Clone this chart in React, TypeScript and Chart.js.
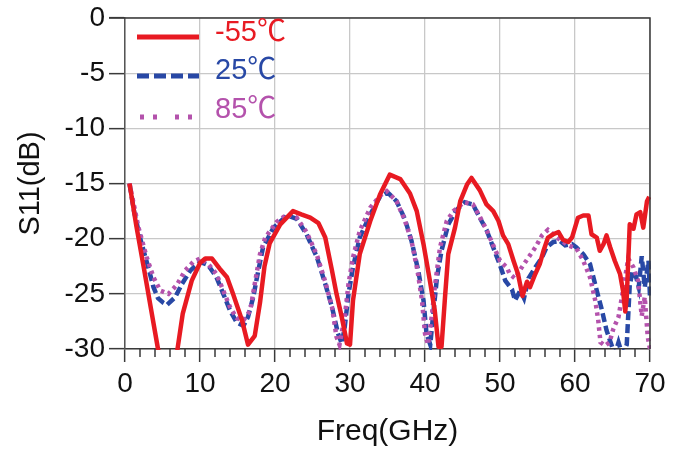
import React, { useEffect, useRef } from 'react';
import { Chart, registerables } from 'chart.js';

Chart.register(...registerables);

// ---- Data (Freq in GHz, S11 in dB) ----
const redFreq = [0.6, 1.5, 2.5, 3.5, 4.4, 5.5, 6.4, 7, 7.7, 8.9, 10, 10.7, 11.6, 12.6, 13.6, 14.4, 15.6, 16.4, 17.3, 18, 18.6, 19.3, 20.7, 22.4, 23.5, 24.7, 25.8, 26.7, 27.6, 28.2, 28.9, 29.6, 30, 30.4, 31.3, 32.7, 34, 35.3, 36.7, 38, 38.9, 39.8, 40.7, 41.3, 41.8, 42.2, 42.7, 43.1, 44, 44.7, 45.6, 46.2, 47.3, 48.2, 49.1, 49.8, 50.4, 51.1, 51.8, 52.4, 53, 53.6, 54, 54.7, 55.3, 55.8, 56.4, 57.1, 57.8, 58.4, 59.1, 59.6, 60, 60.4, 61.1, 61.8, 62.2, 62.9, 63.3, 63.8, 64.2, 64.7, 65.3, 66, 66.4, 66.7, 66.9, 67.1, 67.3, 67.8, 68.2, 68.7, 69.1, 69.6, 69.9];
const redS11 = [-15, -18.8, -22.6, -26.5, -30, -34, -34, -30, -26.8, -23.8, -22.2, -21.8, -21.8, -22.7, -23.5, -25, -27.4, -29.6, -28.8, -25.8, -22.5, -20.4, -18.7, -17.5, -17.8, -18.1, -18.6, -19.9, -22.9, -25, -27.1, -29.5, -29.6, -25.6, -21.4, -18.4, -16, -14.2, -14.6, -15.9, -17.5, -20.5, -24, -26.5, -29.8, -29.8, -25, -21.4, -19, -16.6, -15.1, -14.5, -15.6, -16.9, -17.5, -18.4, -19.7, -20.5, -22, -23.2, -25.2, -23.9, -24.4, -23.2, -22.3, -21.1, -19.9, -19.6, -19.4, -20.1, -20.3, -19.9, -19, -18.1, -17.9, -17.9, -19.6, -19.9, -21.1, -20.5, -19.7, -20.8, -22, -23.2, -24.7, -26.6, -25.3, -22, -18.7, -19.1, -17.8, -17.6, -19, -16.6, -16.2];

const blueFreq = [0.6, 1.2, 2, 3.1, 3.8, 4.4, 5.1, 5.6, 6.7, 7.6, 8.7, 10, 11.1, 12.2, 13.1, 14, 14.9, 15.8, 16.4, 17.1, 17.6, 18.4, 19.8, 21.6, 22.9, 24.2, 25.6, 26.7, 27.6, 28.4, 28.9, 29.3, 29.8, 30.4, 31.3, 32.7, 34, 35, 36.2, 37.3, 38.2, 39.1, 39.8, 40.2, 40.7, 41.1, 41.6, 42.2, 43.1, 44.2, 45.3, 46.4, 47.3, 48.2, 49.1, 50, 50.7, 51.6, 52, 52.7, 53.2, 53.8, 54.7, 55.6, 56.2, 57.1, 58, 58.7, 59.6, 60.2, 61.1, 62, 62.9, 63.6, 64.2, 64.8, 65.3, 65.8, 66.3, 66.9, 67.3, 67.7, 68.2, 68.5, 68.9, 69.3, 69.8, 70];
const blueS11 = [-15, -17.5, -19.9, -22.6, -24.4, -25.4, -25.8, -26, -25.3, -24.1, -22.9, -22.1, -22.4, -23.5, -25, -26.5, -27.6, -27.9, -27.1, -25.3, -23.5, -20.8, -19, -17.9, -18.2, -19.6, -21.7, -24.1, -26.2, -28.6, -29.5, -28, -25, -22.6, -19.9, -17.8, -16.2, -15.8, -16.6, -18.2, -20.2, -22.9, -25.6, -28.6, -29.6, -26.8, -23.5, -21.1, -18.7, -17.4, -16.7, -16.9, -18.1, -19.2, -20.8, -22.4, -23.8, -24.6, -25.6, -24.7, -25.4, -23.6, -22.6, -21.7, -20.8, -20.3, -20.2, -20.6, -20.5, -20.8, -21.4, -22.3, -24.7, -26.5, -28.3, -29.5, -30.5, -29.4, -30.5, -29.6, -24.2, -22.9, -23.6, -24.4, -21.6, -24.4, -22, -25.3];

const purpleFreq = [0.6, 1.2, 1.8, 2.9, 3.8, 4.7, 5.8, 6.9, 8, 9.1, 10, 11.1, 12.2, 13.1, 14, 14.9, 15.8, 16.7, 17.3, 18, 18.7, 20.2, 21.6, 22.9, 24.2, 25.6, 26.7, 27.6, 28.2, 28.6, 29.3, 29.8, 30.4, 31.3, 32.7, 34, 34.9, 36.2, 37.3, 38.2, 39, 39.6, 40, 40.4, 41, 41.3, 42, 42.9, 43.8, 45.2, 46.4, 47.3, 48.2, 49.1, 50, 50.9, 51.3, 52, 52.9, 53.8, 54.7, 55.6, 56.4, 57.1, 58, 59.1, 60.2, 61.1, 62, 62.7, 63.1, 63.4, 64, 64.6, 65.1, 65.8, 66.4, 67.1, 67.8, 68.4, 68.9, 69.3, 69.7, 70];
const purpleS11 = [-15, -17, -19, -21.7, -23.5, -24.7, -25, -24.2, -22.9, -22.1, -21.8, -22.3, -23.2, -24.7, -26.2, -27.2, -27.4, -26.5, -24.1, -21.4, -19.9, -18.5, -17.8, -18.1, -19.4, -21.5, -23.9, -26.2, -28.9, -29.6, -27.1, -24.1, -21.7, -19.3, -17.2, -16.1, -15.7, -16.6, -18.3, -20.2, -22.9, -25.6, -28.6, -29.6, -26.5, -24.4, -20.8, -18.4, -17.5, -16.7, -16.9, -18, -19.2, -20.6, -22, -22.6, -23.2, -23.6, -22.6, -21.7, -20.8, -19.7, -19.2, -19.6, -20.1, -20.6, -20.9, -22, -23.5, -25.6, -27.4, -29.4, -29.7, -29.4, -28.2, -27.1, -24.7, -21.8, -22.6, -23.8, -27, -25.3, -28.9, -30];

const seriesNames = ['-55℃', '25℃', '85℃'];
const xTickValues = [0, 10, 20, 30, 40, 50, 60, 70];
const yTickValues = [-30, -25, -20, -15, -10, -5, 0];

const RED = 'rgb(232,26,34)';
const BLUE = 'rgb(40,72,165)';
const PURPLE = 'rgb(180,82,172)';
const FONT = "Arial, 'Liberation Sans', 'Noto Sans CJK SC', sans-serif";

const toPoints = (xs: number[], ys: number[]) => xs.map((x, i) => ({ x, y: ys[i] }));

const decorPlugin = {
  id: 'decor',
  afterDraw(chart: any) {
    const { ctx, chartArea } = chart;
    const { left, right, top, bottom } = chartArea;
    const xs = chart.scales.x;
    ctx.save();
    // frame top/right
    ctx.strokeStyle = '#3a3a3a';
    ctx.lineWidth = 1.5;
    ctx.setLineDash([]);
    ctx.beginPath();
    ctx.moveTo(left - 16, top);
    ctx.lineTo(right, top);
    ctx.lineTo(right, bottom);
    ctx.stroke();
    // minor ticks
    ctx.beginPath();
    for (let v = 0; v <= 70; v += 2) {
      if (v % 10 === 0) continue;
      const px = xs.getPixelForValue(v);
      ctx.moveTo(px, bottom);
      ctx.lineTo(px, bottom + 8);
    }
    ctx.stroke();
    // legend
    const items = [
      { color: RED, dash: [], x0: 12, x1: 74, y: top + 19, ty: top + 15 },
      { color: BLUE, dash: [12, 5], x0: 12, x1: 74, y: top + 58, ty: top + 53 },
      { color: PURPLE, dash: [4, 9, 4, 18], x0: 15, x1: 69, y: top + 99, ty: top + 92 },
    ];
    items.forEach((it, i) => {
      ctx.strokeStyle = it.color;
      ctx.lineWidth = 5;
      ctx.lineCap = 'butt';
      ctx.setLineDash(it.dash);
      ctx.beginPath();
      ctx.moveTo(left + it.x0, it.y);
      ctx.lineTo(left + it.x1, it.y);
      ctx.stroke();
      ctx.setLineDash([]);
      ctx.fillStyle = it.color;
      ctx.font = `29px ${FONT}`;
      ctx.textBaseline = 'middle';
      ctx.textAlign = 'left';
      ctx.fillText(seriesNames[i], left + 90, it.ty);
    });
    ctx.restore();
  },
};

export default function App() {
  const ref = useRef<HTMLCanvasElement>(null);
  useEffect(() => {
    document.body.style.margin = '0';
    const chart = new Chart(ref.current as HTMLCanvasElement, {
      type: 'line',
      data: {
        datasets: [
          {
            label: seriesNames[0],
            data: toPoints(redFreq, redS11),
            borderColor: RED,
            borderWidth: 4.5,
            pointRadius: 0,
            order: 0,
            borderJoinStyle: 'round',
          },
          {
            label: seriesNames[1],
            data: toPoints(blueFreq, blueS11),
            borderColor: BLUE,
            borderWidth: 4.5,
            borderDash: [9, 4],
            pointRadius: 0,
            order: 2,
          },
          {
            label: seriesNames[2],
            data: toPoints(purpleFreq, purpleS11),
            borderColor: PURPLE,
            borderWidth: 4.5,
            borderDash: [3.5, 4],
            pointRadius: 0,
            order: 1,
          },
        ],
      },
      options: {
        animation: false,
        responsive: false,
        clip: 1,
        layout: { padding: { left: 0, top: 16, right: 37, bottom: 0 } },
        plugins: { legend: { display: false }, tooltip: { enabled: false } },
        scales: {
          x: {
            type: 'linear',
            min: 0,
            max: 70,
            afterBuildTicks: (s: any) => { s.ticks = xTickValues.map((v) => ({ value: v })); },
            afterFit: (s: any) => { s.height = 102; },
            ticks: { font: { size: 28, family: FONT, lineHeight: 1 }, color: '#111', padding: 8, maxRotation: 0 },
            grid: { color: '#c8c8c8', lineWidth: 1.3, tickColor: '#3a3a3a', tickLength: 13, tickWidth: 1.5 },
            border: { display: true, color: '#3a3a3a', width: 1.5 },
            title: { display: true, text: 'Freq(GHz)', color: '#111', font: { size: 30, family: FONT, lineHeight: 1 }, padding: { top: 0, bottom: 4 } },
          },
          y: {
            type: 'linear',
            min: -30,
            max: 0,
            afterBuildTicks: (s: any) => { s.ticks = yTickValues.map((v) => ({ value: v })); },
            afterFit: (s: any) => { s.width = 125; },
            ticks: { font: { size: 28, family: FONT, lineHeight: 1 }, color: '#111', padding: 4 },
            grid: { color: '#c8c8c8', lineWidth: 1.3, tickColor: '#3a3a3a', tickLength: 16, tickWidth: 1.5 },
            border: { display: true, color: '#555', width: 1.5 },
            title: { display: true, text: 'S11(dB)', color: '#111', font: { size: 29, family: FONT, lineHeight: 1 }, padding: { top: 16.5, bottom: 0 } },
          },
        },
      },
      plugins: [decorPlugin],
    } as any);
    return () => chart.destroy();
  }, []);
  return (
    <div style={{ position: 'fixed', left: 0, top: 0, width: 687, height: 451, background: '#fff' }}>
      <canvas ref={ref} width={687} height={451} style={{ display: 'block' }} />
    </div>
  );
}
